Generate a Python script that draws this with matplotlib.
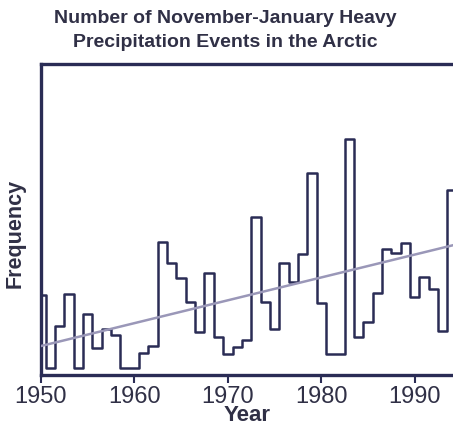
import matplotlib
matplotlib.use("Agg")
import matplotlib.pyplot as plt
import numpy as np

plt.rcParams['font.family'] = ['Liberation Sans', 'DejaVu Sans']

years = list(range(1950, 1995))
frequency = [7.3, 0.0, 4.2, 7.4, 0.0, 5.4, 2.0, 3.9, 3.3, 0.0,
             0.0, 1.5, 2.2, 12.6, 10.5, 9.0, 6.6, 3.6, 9.5, 3.1,
             1.4, 2.1, 2.8, 15.1, 6.6, 3.9, 10.5, 8.6, 11.4, 19.5,
             6.5, 1.4, 1.4, 22.9, 3.1, 4.6, 7.5, 11.9, 11.5, 12.5,
             7.1, 9.1, 7.9, 3.7, 17.8]
trend_years = [1950, 1994.2]
trend_values = [2.2, 12.3]
xtick_years = [1950, 1960, 1970, 1980, 1990]

navy = '#2a2c55'
trend_color = '#9a97b8'
text_color = '#303046'

fig = plt.figure(figsize=(4.53, 4.32), dpi=100)
ax = fig.add_axes([41/453, 1 - 375/432, 1 - 41/453 + 0.002, (375 - 64)/432])

yrs = np.array(years, dtype=float)
vals = np.array(frequency)
# extend last step to the right edge
xs = np.append(yrs, yrs[-1] + 0.5)
vs = np.append(vals, vals[-1])
ax.step(xs, vs, where='mid', color=navy, lw=1.8, zorder=3)
ax.plot(trend_years, trend_values, color=trend_color, lw=1.8, zorder=4)

ax.set_xlim(1950, 1994.2)
ax.set_ylim(-0.7, 30.4)

for s in ['left', 'bottom', 'top']:
    ax.spines[s].set_color(navy)
    ax.spines[s].set_linewidth(2.4)
ax.spines['right'].set_visible(False)

ax.set_xticks(xtick_years)
ax.set_xticklabels([str(y) for y in xtick_years], fontsize=17, color=text_color)
ax.tick_params(axis='x', direction='out', length=6, width=1.5, color=navy, pad=2)
ax.set_yticks([])

ax.set_xlabel('Year', fontsize=16, fontweight='bold', color=text_color, labelpad=-2)
ax.set_ylabel('Frequency', fontsize=15.5, fontweight='bold', color=text_color)
ax.yaxis.set_label_coords(-0.038, 0.455)

fig.text(0.497, 0.976, 'Number of November-January Heavy\nPrecipitation Events in the Arctic',
         ha='center', va='top', fontsize=14, fontweight='bold', color=text_color,
         linespacing=1.5)

fig.savefig('out.png', dpi=100)
